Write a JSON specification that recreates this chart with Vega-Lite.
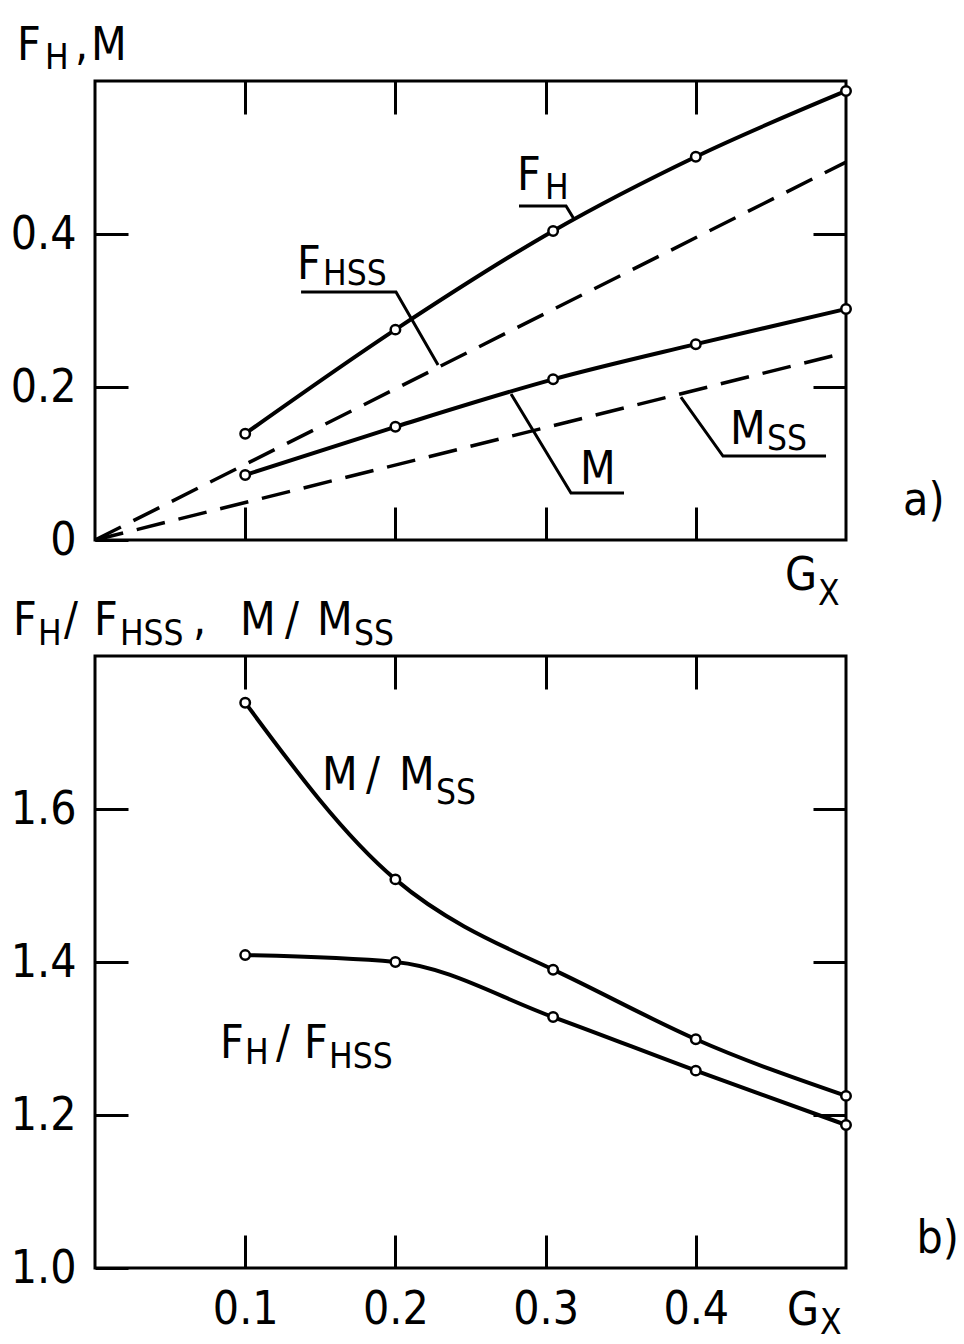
{
  "$schema": "https://vega.github.io/schema/vega-lite/v6.json",
  "background": "white",
  "padding": {"left": 8, "top": 21, "right": 0, "bottom": 0},
  "bounds": "flush",
  "spacing": 116,
  "datasets": {
    "top_curves": [
      {"series": "F_H", "x": 0.1, "y": 0.139},
      {"series": "F_H", "x": 0.2, "y": 0.275},
      {"series": "F_H", "x": 0.305, "y": 0.404},
      {"series": "F_H", "x": 0.4, "y": 0.501},
      {"series": "F_H", "x": 0.5, "y": 0.587},
      {"series": "M", "x": 0.1, "y": 0.085},
      {"series": "M", "x": 0.2, "y": 0.148},
      {"series": "M", "x": 0.305, "y": 0.21},
      {"series": "M", "x": 0.4, "y": 0.256},
      {"series": "M", "x": 0.5, "y": 0.302},
      {"series": "F_Hss", "x": 0, "y": 0},
      {"series": "F_Hss", "x": 0.5, "y": 0.494},
      {"series": "M_ss", "x": 0, "y": 0},
      {"series": "M_ss", "x": 0.5, "y": 0.245}
    ],
    "top_leaders": [
      {"id": "F_H", "ord": 1, "x": 0.2823, "y": 0.4366},
      {"id": "F_H", "ord": 2, "x": 0.3136, "y": 0.4366},
      {"id": "F_H", "ord": 3, "x": 0.3189, "y": 0.4196},
      {"id": "F_Hss", "ord": 1, "x": 0.1372, "y": 0.3242},
      {"id": "F_Hss", "ord": 2, "x": 0.2004, "y": 0.3242},
      {"id": "F_Hss", "ord": 3, "x": 0.2284, "y": 0.2288},
      {"id": "M", "ord": 1, "x": 0.277, "y": 0.1908},
      {"id": "M", "ord": 2, "x": 0.3169, "y": 0.0614},
      {"id": "M", "ord": 3, "x": 0.3522, "y": 0.0614},
      {"id": "M_ss", "ord": 1, "x": 0.3901, "y": 0.1869},
      {"id": "M_ss", "ord": 2, "x": 0.4181, "y": 0.1098},
      {"id": "M_ss", "ord": 3, "x": 0.4867, "y": 0.1098}
    ],
    "top_labels": [
      {"kind": "main", "text": "F", "x": -0.0519, "y": 0.6275},
      {"kind": "sub", "text": "H", "x": -0.0333, "y": 0.6157},
      {"kind": "main", "text": ",", "x": -0.0133, "y": 0.6275},
      {"kind": "main", "text": "M", "x": -0.0027, "y": 0.6275},
      {"kind": "main", "text": "F", "x": 0.281, "y": 0.4575},
      {"kind": "sub", "text": "H", "x": 0.2996, "y": 0.4458},
      {"kind": "main", "text": "F", "x": 0.1345, "y": 0.3412},
      {"kind": "sub", "text": "HSS", "x": 0.1518, "y": 0.3333},
      {"kind": "main", "text": "M", "x": 0.3229, "y": 0.0732},
      {"kind": "main", "text": "M", "x": 0.4228, "y": 0.1255},
      {"kind": "sub", "text": "SS", "x": 0.4474, "y": 0.1176},
      {"kind": "main", "text": "a)", "x": 0.538, "y": 0.0327},
      {"kind": "main", "text": "G", "x": 0.4594, "y": -0.0654},
      {"kind": "sub", "text": "X", "x": 0.4814, "y": -0.085}
    ],
    "bot_curves": [
      {"series": "M/Mss", "x": 0.1, "y": 1.739},
      {"series": "M/Mss", "x": 0.2, "y": 1.508},
      {"series": "M/Mss", "x": 0.305, "y": 1.39},
      {"series": "M/Mss", "x": 0.4, "y": 1.299},
      {"series": "M/Mss", "x": 0.5, "y": 1.225},
      {"series": "F_H/F_Hss", "x": 0.1, "y": 1.409},
      {"series": "F_H/F_Hss", "x": 0.2, "y": 1.4},
      {"series": "F_H/F_Hss", "x": 0.305, "y": 1.328},
      {"series": "F_H/F_Hss", "x": 0.4, "y": 1.258},
      {"series": "F_H/F_Hss", "x": 0.5, "y": 1.187}
    ],
    "bot_labels": [
      {"kind": "main", "text": "F", "x": -0.0546, "y": 1.8275},
      {"kind": "sub", "text": "H", "x": -0.038, "y": 1.8144},
      {"kind": "main", "text": "/", "x": -0.0206, "y": 1.8275},
      {"kind": "main", "text": "F", "x": -0.0007, "y": 1.8275},
      {"kind": "sub", "text": "HSS", "x": 0.0166, "y": 1.8144},
      {"kind": "main", "text": ",", "x": 0.0652, "y": 1.8275},
      {"kind": "main", "text": "M", "x": 0.0965, "y": 1.8275},
      {"kind": "main", "text": "/", "x": 0.1265, "y": 1.8275},
      {"kind": "main", "text": "M", "x": 0.1478, "y": 1.8275},
      {"kind": "sub", "text": "SS", "x": 0.1724, "y": 1.8144},
      {"kind": "main", "text": "M", "x": 0.1511, "y": 1.6248},
      {"kind": "main", "text": "/", "x": 0.1804, "y": 1.6248},
      {"kind": "main", "text": "M", "x": 0.2024, "y": 1.6248},
      {"kind": "sub", "text": "SS", "x": 0.227, "y": 1.6065},
      {"kind": "main", "text": "F", "x": 0.0832, "y": 1.2745},
      {"kind": "sub", "text": "H", "x": 0.0999, "y": 1.2667},
      {"kind": "main", "text": "/", "x": 0.1205, "y": 1.2745},
      {"kind": "main", "text": "F", "x": 0.1391, "y": 1.2745},
      {"kind": "sub", "text": "HSS", "x": 0.1558, "y": 1.2614},
      {"kind": "main", "text": "b)", "x": 0.547, "y": 1.0196},
      {"kind": "main", "text": "G", "x": 0.4607, "y": 0.9255},
      {"kind": "sub", "text": "X", "x": 0.4827, "y": 0.9137}
    ]
  },
  "vconcat": [
    {
      "width": 751,
      "height": 459,
      "layer": [
        {
          "data": {"name": "top_curves"},
          "transform": [{"filter": "datum.series == 'F_H' || datum.series == 'M'"}],
          "mark": {"type": "line", "interpolate": "monotone", "color": "black", "strokeWidth": 4},
          "encoding": {
            "x": {"field": "x", "type": "quantitative", "scale": {"domain": [0, 0.5], "nice": false, "zero": false},
                  "axis": {"orient": "bottom", "values": [0.1, 0.2, 0.3, 0.4], "labels": false, "title": null}},
            "y": {"field": "y", "type": "quantitative", "scale": {"domain": [0, 0.6], "nice": false},
                  "axis": {"orient": "left", "values": [0, 0.2, 0.4], "format": "~g", "title": null}},
            "detail": {"field": "series"}
          }
        },
        {
          "data": {"name": "top_curves"},
          "transform": [{"filter": "datum.series == 'F_Hss' || datum.series == 'M_ss'"}],
          "mark": {"type": "line", "color": "black", "strokeWidth": 3.5, "strokeDash": [29, 14]},
          "encoding": {
            "x": {"field": "x", "type": "quantitative", "axis": null},
            "y": {"field": "y", "type": "quantitative", "axis": null},
            "detail": {"field": "series"}
          }
        },
        {
          "data": {"name": "top_curves"},
          "transform": [{"filter": "datum.series == 'F_H' || datum.series == 'M'"}],
          "mark": {"type": "point", "shape": "circle", "size": 90, "fill": "white", "stroke": "black", "strokeWidth": 2.5, "opacity": 1},
          "encoding": {
            "x": {"field": "x", "type": "quantitative",
                  "axis": {"orient": "top", "values": [0.1, 0.2, 0.3, 0.4], "labels": false, "title": null}},
            "y": {"field": "y", "type": "quantitative",
                  "axis": {"orient": "right", "values": [0.2, 0.4], "labels": false, "title": null}}
          }
        },
        {
          "data": {"name": "top_leaders"},
          "mark": {"type": "line", "color": "black", "strokeWidth": 3},
          "encoding": {
            "x": {"field": "x", "type": "quantitative", "axis": null},
            "y": {"field": "y", "type": "quantitative", "axis": null},
            "detail": {"field": "id"},
            "order": {"field": "ord"}
          }
        },
        {
          "data": {"name": "top_labels"},
          "transform": [{"filter": "datum.kind == 'main'"}],
          "mark": {"type": "text", "align": "left", "baseline": "alphabetic", "fontSize": 46, "font": "DejaVu Sans Condensed, DejaVu Sans, sans-serif", "color": "black"},
          "encoding": {
            "x": {"field": "x", "type": "quantitative", "axis": null},
            "y": {"field": "y", "type": "quantitative", "axis": null},
            "text": {"field": "text"}
          }
        },
        {
          "data": {"name": "top_labels"},
          "transform": [{"filter": "datum.kind == 'sub'"}],
          "mark": {"type": "text", "align": "left", "baseline": "alphabetic", "fontSize": 35, "font": "DejaVu Sans Condensed, DejaVu Sans, sans-serif", "color": "black"},
          "encoding": {
            "x": {"field": "x", "type": "quantitative", "axis": null},
            "y": {"field": "y", "type": "quantitative", "axis": null},
            "text": {"field": "text"}
          }
        }
      ],
      "resolve": {"axis": {"x": "independent", "y": "independent"}}
    },
    {
      "width": 751,
      "height": 612,
      "layer": [
        {
          "data": {"name": "bot_curves"},
          "transform": [{"filter": "datum.series == 'F_H/F_Hss'"}],
          "mark": {"type": "line", "interpolate": "monotone", "color": "black", "strokeWidth": 4},
          "encoding": {
            "x": {"field": "x", "type": "quantitative", "scale": {"domain": [0, 0.5], "nice": false, "zero": false},
                  "axis": {"orient": "bottom", "values": [0.1, 0.2, 0.3, 0.4], "format": ".1f", "title": null}},
            "y": {"field": "y", "type": "quantitative", "scale": {"domain": [1, 1.8], "nice": false, "zero": false},
                  "axis": {"orient": "left", "values": [1.0, 1.2, 1.4, 1.6], "format": ".1f", "title": null}}
          }
        },
        {
          "data": {"name": "bot_curves"},
          "transform": [{"filter": "datum.series == 'M/Mss'"}],
          "mark": {"type": "line", "interpolate": "natural", "color": "black", "strokeWidth": 4},
          "encoding": {
            "x": {"field": "x", "type": "quantitative", "axis": null},
            "y": {"field": "y", "type": "quantitative", "axis": null}
          }
        },
        {
          "data": {"name": "bot_curves"},
          "mark": {"type": "point", "shape": "circle", "size": 90, "fill": "white", "stroke": "black", "strokeWidth": 2.5, "opacity": 1},
          "encoding": {
            "x": {"field": "x", "type": "quantitative",
                  "axis": {"orient": "top", "values": [0.1, 0.2, 0.3, 0.4], "labels": false, "title": null}},
            "y": {"field": "y", "type": "quantitative",
                  "axis": {"orient": "right", "values": [1.2, 1.4, 1.6], "labels": false, "title": null}}
          }
        },
        {
          "data": {"name": "bot_labels"},
          "transform": [{"filter": "datum.kind == 'main'"}],
          "mark": {"type": "text", "align": "left", "baseline": "alphabetic", "fontSize": 46, "font": "DejaVu Sans Condensed, DejaVu Sans, sans-serif", "color": "black"},
          "encoding": {
            "x": {"field": "x", "type": "quantitative", "axis": null},
            "y": {"field": "y", "type": "quantitative", "axis": null},
            "text": {"field": "text"}
          }
        },
        {
          "data": {"name": "bot_labels"},
          "transform": [{"filter": "datum.kind == 'sub'"}],
          "mark": {"type": "text", "align": "left", "baseline": "alphabetic", "fontSize": 35, "font": "DejaVu Sans Condensed, DejaVu Sans, sans-serif", "color": "black"},
          "encoding": {
            "x": {"field": "x", "type": "quantitative", "axis": null},
            "y": {"field": "y", "type": "quantitative", "axis": null},
            "text": {"field": "text"}
          }
        }
      ],
      "resolve": {"axis": {"x": "independent", "y": "independent"}}
    }
  ],
  "config": {
    "view": {"stroke": "black", "strokeWidth": 3},
    "axis": {
      "domain": false,
      "grid": false,
      "ticks": true,
      "tickSize": -33,
      "tickWidth": 3,
      "tickColor": "black",
      "labelPadding": 52,
      "labelFont": "DejaVu Sans Condensed, DejaVu Sans, sans-serif",
      "labelFontSize": 46,
      "labelColor": "black",
      "labelFlush": false,
      "labelOverlap": false
    }
  }
}
